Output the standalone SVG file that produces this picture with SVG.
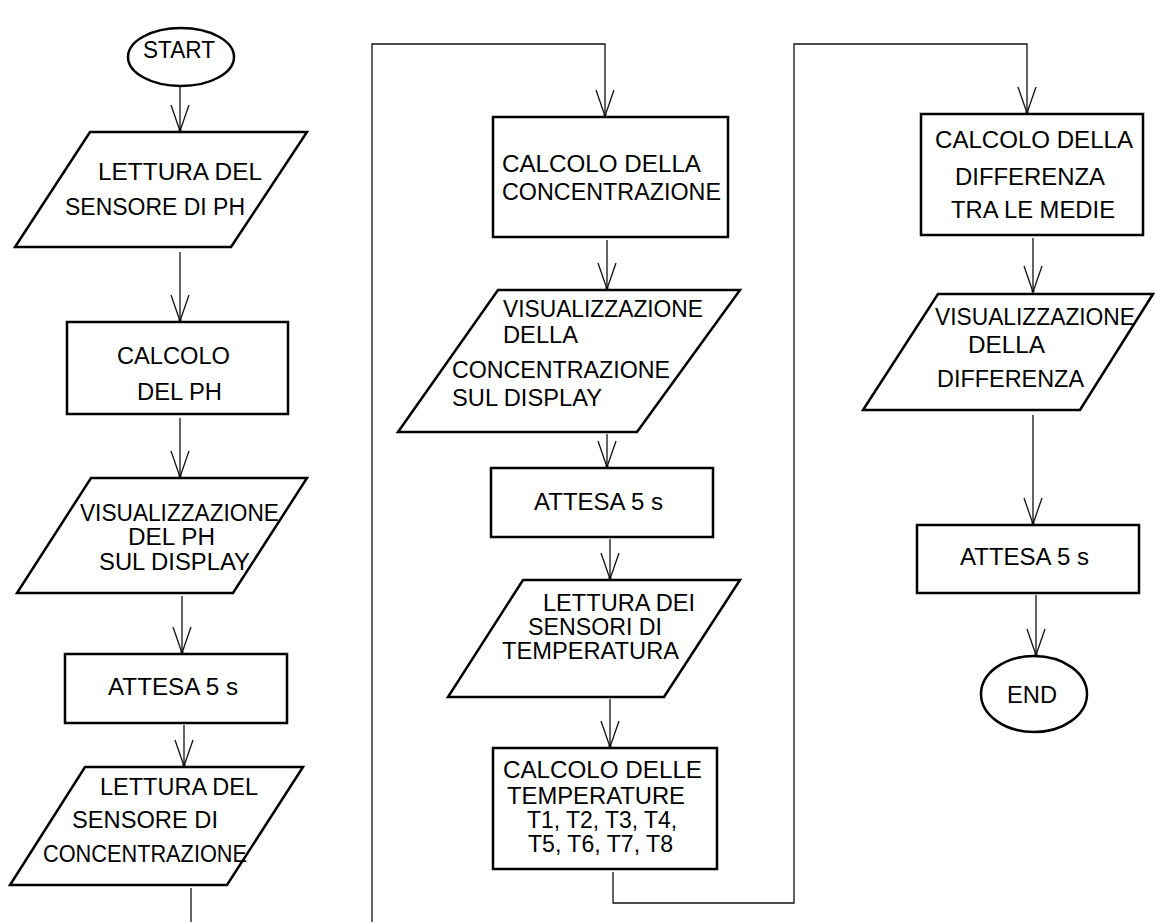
<svg xmlns="http://www.w3.org/2000/svg" width="1155" height="922" viewBox="0 0 1155 922">
<style>
  .shape { fill: #fff; stroke: #000; stroke-width: 2.5; stroke-linejoin: miter; }
  .conn { fill: none; stroke: #111; stroke-width: 1.3; }
  text { font-family: "Liberation Sans", Arial, sans-serif; font-size: 23px; fill: #000; }
</style>
<defs>
  <marker id="arr" markerUnits="userSpaceOnUse" viewBox="0 0 30 22" refX="28" refY="11" markerWidth="30" markerHeight="22" orient="auto">
    <path d="M2,2 L28,11 L2,20" fill="none" stroke="#111" stroke-width="1.3"/>
    <circle cx="27" cy="11" r="1.6" fill="#111"/>
  </marker>
</defs>
<rect width="1155" height="922" fill="#fff"/>

<g id="connectors">
  <polyline class="conn" points="180,87 180,131" marker-end="url(#arr)"/>
  <polyline class="conn" points="180,252 180,321" marker-end="url(#arr)"/>
  <polyline class="conn" points="180,418 180,477" marker-end="url(#arr)"/>
  <polyline class="conn" points="182,596 182,653" marker-end="url(#arr)"/>
  <polyline class="conn" points="184,725 184,766" marker-end="url(#arr)"/>
  <polyline class="conn" points="191,888 191,922"/>
  <polyline class="conn" points="372,922 372,44 605,44 605,116" marker-end="url(#arr)"/>
  <polyline class="conn" points="607,240 607,289" marker-end="url(#arr)"/>
  <polyline class="conn" points="607,434 607,467" marker-end="url(#arr)"/>
  <polyline class="conn" points="610,539 610,579" marker-end="url(#arr)"/>
  <polyline class="conn" points="610,699 610,747" marker-end="url(#arr)"/>
  <polyline class="conn" points="613,872 613,903 794,903 794,44 1027,44 1027,113" marker-end="url(#arr)"/>
  <polyline class="conn" points="1033,238 1033,292" marker-end="url(#arr)"/>
  <polyline class="conn" points="1033,415 1033,524" marker-end="url(#arr)"/>
  <polyline class="conn" points="1036,595 1036,655" marker-end="url(#arr)"/>
</g>

<g id="start">
  <ellipse class="shape" cx="181" cy="57" rx="53" ry="29"/>
  <text x="143" y="58" textLength="72" lengthAdjust="spacingAndGlyphs">START</text>
</g>

<g id="lettura-ph">
  <polygon class="shape" points="90,132 307,132 231,247 15,247"/>
  <text x="98" y="180" textLength="164" lengthAdjust="spacingAndGlyphs">LETTURA DEL</text>
  <text x="65" y="215" textLength="180" lengthAdjust="spacingAndGlyphs">SENSORE DI PH</text>
</g>

<g id="calcolo-ph">
  <rect class="shape" x="67" y="322" width="221" height="92"/>
  <text x="117" y="364" textLength="113" lengthAdjust="spacingAndGlyphs">CALCOLO</text>
  <text x="137" y="400" textLength="85" lengthAdjust="spacingAndGlyphs">DEL PH</text>
</g>

<g id="visualizzazione-ph">
  <polygon class="shape" points="91,478 307,478 233,593 17,593"/>
  <text x="80" y="521" textLength="199" lengthAdjust="spacingAndGlyphs">VISUALIZZAZIONE</text>
  <text x="128" y="545" textLength="87" lengthAdjust="spacingAndGlyphs">DEL PH</text>
  <text x="99" y="570" textLength="151" lengthAdjust="spacingAndGlyphs">SUL DISPLAY</text>
</g>

<g id="attesa-1">
  <rect class="shape" x="65" y="654" width="222" height="69"/>
  <text x="108" y="695" textLength="130" lengthAdjust="spacingAndGlyphs">ATTESA 5 s</text>
</g>

<g id="lettura-concentrazione">
  <polygon class="shape" points="85,767 303,767 227,885 10,885"/>
  <text x="100" y="795" textLength="158" lengthAdjust="spacingAndGlyphs">LETTURA DEL</text>
  <text x="72" y="828" textLength="146" lengthAdjust="spacingAndGlyphs">SENSORE DI</text>
  <text x="43" y="862" textLength="204" lengthAdjust="spacingAndGlyphs">CONCENTRAZIONE</text>
</g>

<g id="calcolo-concentrazione">
  <rect class="shape" x="493" y="117" width="235" height="120"/>
  <text x="502" y="172" textLength="199" lengthAdjust="spacingAndGlyphs">CALCOLO DELLA</text>
  <text x="502" y="200" textLength="219" lengthAdjust="spacingAndGlyphs">CONCENTRAZIONE</text>
</g>

<g id="visualizzazione-concentrazione">
  <polygon class="shape" points="498,290 740,290 637,432 398,432"/>
  <text x="503" y="317" textLength="200" lengthAdjust="spacingAndGlyphs">VISUALIZZAZIONE</text>
  <text x="503" y="343" textLength="75" lengthAdjust="spacingAndGlyphs">DELLA</text>
  <text x="452" y="378" textLength="218" lengthAdjust="spacingAndGlyphs">CONCENTRAZIONE</text>
  <text x="452" y="406" textLength="150" lengthAdjust="spacingAndGlyphs">SUL DISPLAY</text>
</g>

<g id="attesa-2">
  <rect class="shape" x="491" y="468" width="222" height="69"/>
  <text x="534" y="510" textLength="129" lengthAdjust="spacingAndGlyphs">ATTESA 5 s</text>
</g>

<g id="lettura-temperatura">
  <polygon class="shape" points="523,580 740,580 664,697 448,697"/>
  <text x="543" y="611" textLength="152" lengthAdjust="spacingAndGlyphs">LETTURA DEI</text>
  <text x="528" y="635" textLength="134" lengthAdjust="spacingAndGlyphs">SENSORI DI</text>
  <text x="502" y="659" textLength="177" lengthAdjust="spacingAndGlyphs">TEMPERATURA</text>
</g>

<g id="calcolo-temperature">
  <rect class="shape" x="493" y="748" width="224" height="121"/>
  <text x="503" y="778" textLength="199" lengthAdjust="spacingAndGlyphs">CALCOLO DELLE</text>
  <text x="507" y="804" textLength="178" lengthAdjust="spacingAndGlyphs">TEMPERATURE</text>
  <text x="527" y="828" textLength="150" lengthAdjust="spacingAndGlyphs">T1, T2, T3, T4,</text>
  <text x="528" y="852" textLength="145" lengthAdjust="spacingAndGlyphs">T5, T6, T7, T8</text>
</g>

<g id="calcolo-differenza">
  <rect class="shape" x="921" y="114" width="222" height="121"/>
  <text x="935" y="148" textLength="198" lengthAdjust="spacingAndGlyphs">CALCOLO DELLA</text>
  <text x="955" y="185" textLength="150" lengthAdjust="spacingAndGlyphs">DIFFERENZA</text>
  <text x="951" y="218" textLength="164" lengthAdjust="spacingAndGlyphs">TRA LE MEDIE</text>
</g>

<g id="visualizzazione-differenza">
  <polygon class="shape" points="938,294 1153,294 1080,410 863,410"/>
  <text x="935" y="325" textLength="200" lengthAdjust="spacingAndGlyphs">VISUALIZZAZIONE</text>
  <text x="968" y="353" textLength="77" lengthAdjust="spacingAndGlyphs">DELLA</text>
  <text x="937" y="387" textLength="147" lengthAdjust="spacingAndGlyphs">DIFFERENZA</text>
</g>

<g id="attesa-3">
  <rect class="shape" x="917" y="525" width="222" height="68"/>
  <text x="960" y="565" textLength="129" lengthAdjust="spacingAndGlyphs">ATTESA 5 s</text>
</g>

<g id="end">
  <ellipse class="shape" cx="1034" cy="694" rx="53" ry="38"/>
  <text x="1007" y="703" textLength="50" lengthAdjust="spacingAndGlyphs">END</text>
</g>
</svg>
